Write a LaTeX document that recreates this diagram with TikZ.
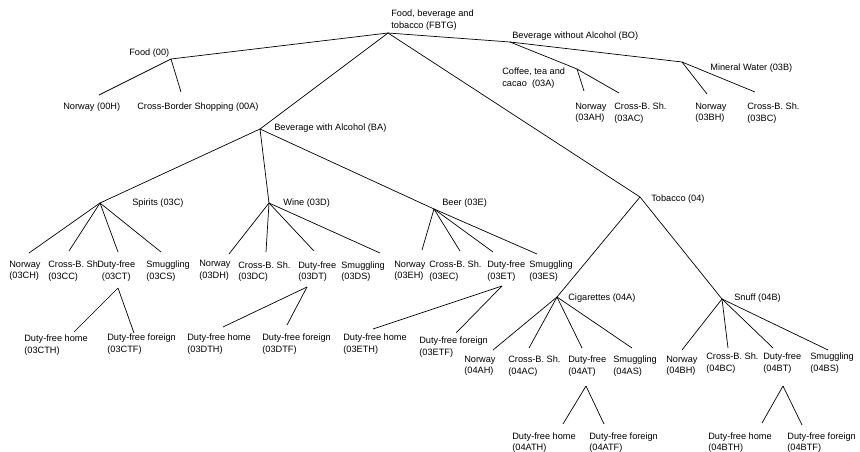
\documentclass[tikz,border=0pt]{standalone}
\usepackage{fontspec}
\setmainfont{Liberation Sans}
\begin{document}
\begin{tikzpicture}[x=1pt,y=-1pt,line width=0.7pt,
  lbl/.style={anchor=north west,inner sep=0pt,align=left,font=\fontsize{9.2}{11.5}\selectfont}]
  \useasboundingbox (0,0) rectangle (860,452);

  % Junctions
  \coordinate (fbtg) at (388,33);
  \coordinate (food) at (171,59);
  \coordinate (bo) at (510,42);
  \coordinate (cof) at (577,69);
  \coordinate (mw) at (682,62);
  \coordinate (ba) at (260,129);
  \coordinate (spi) at (100,203);
  \coordinate (wine) at (269,203);
  \coordinate (beer) at (434,209);
  \coordinate (tob) at (640,197);
  \coordinate (cig) at (557,297);
  \coordinate (snu) at (722,299);
  \coordinate (ct) at (118,288);
  \coordinate (dt) at (307,287);
  \coordinate (et) at (502,286);
  \coordinate (at) at (586,386);
  \coordinate (bt) at (783,386);

  % Line ends above the leaf labels
  \coordinate (e00H) at (99,95);
  \coordinate (e00A) at (181,92);
  \coordinate (e03AH) at (584,91);
  \coordinate (e03AC) at (619,93);
  \coordinate (e03BH) at (707,94);
  \coordinate (e03BC) at (755,92);
  \coordinate (e03CH) at (29,253);
  \coordinate (e03CC) at (69,251);
  \coordinate (e03CT) at (118,252);
  \coordinate (e03CS) at (161,252);
  \coordinate (e03DH) at (229,254);
  \coordinate (e03DC) at (266,252);
  \coordinate (e03DT) at (314,251);
  \coordinate (e03DS) at (380,253);
  \coordinate (e03EH) at (422,250);
  \coordinate (e03EC) at (460,251);
  \coordinate (e03ET) at (493,252);
  \coordinate (e03ES) at (537,254);
  \coordinate (e03CTH) at (74,332);
  \coordinate (e03CTF) at (134,333);
  \coordinate (e03DTH) at (223,327);
  \coordinate (e03DTF) at (287,325);
  \coordinate (e03ETH) at (373,329);
  \coordinate (e03ETF) at (456,333);
  \coordinate (e04AH) at (493,350);
  \coordinate (e04AC) at (529,348);
  \coordinate (e04AT) at (582,348);
  \coordinate (e04AS) at (632,348);
  \coordinate (e04BH) at (682,350);
  \coordinate (e04BC) at (728,348);
  \coordinate (e04BT) at (773,348);
  \coordinate (e04BS) at (828,350);
  \coordinate (e04ATH) at (563,424);
  \coordinate (e04ATF) at (604,424);
  \coordinate (e04BTH) at (762,423);
  \coordinate (e04BTF) at (802,425);

  % Group labels
  \node[lbl] (lfbtg) at (391,9.5) {Food, beverage and\\tobacco (FBTG)};
  \node[lbl] (lfood) at (129,48.5) {Food (00)};
  \node[lbl] (lbo) at (512,31.5) {Beverage without Alcohol (BO)};
  \node[lbl] (lcof) at (502,67.5) {Coffee, tea and\\cacao\ \ (03A)};
  \node[lbl] (lmw) at (710,63.5) {Mineral Water (03B)};
  \node[lbl] (lba) at (274,123.5) {Beverage with Alcohol (BA)};
  \node[lbl] (lspi) at (132,198.5) {Spirits (03C)};
  \node[lbl] (lwine) at (283,198.5) {Wine (03D)};
  \node[lbl] (lbeer) at (442,198.5) {Beer (03E)};
  \node[lbl] (ltob) at (651,194.5) {Tobacco (04)};
  \node[lbl] (lcig) at (568,293.5) {Cigarettes (04A)};
  \node[lbl] (lsnu) at (734,293.5) {Snuff (04B)};

  % Leaf labels
  \node[lbl] (l00H) at (63,102.5) {Norway (00H)};
  \node[lbl] (l00A) at (137,102.5) {Cross-Border Shopping (00A)};
  \node[lbl] (l03AH) at (575,102.5) {Norway\\(03AH)};
  \node[lbl] (l03AC) at (614,102.5) {Cross-B. Sh.\\(03AC)};
  \node[lbl] (l03BH) at (695,102.5) {Norway\\(03BH)};
  \node[lbl] (l03BC) at (747,102.5) {Cross-B. Sh.\\(03BC)};

  \node[lbl] (l03CH) at (9,260.5) {Norway\\(03CH)};
  \node[lbl] (l03CC) at (48,260.5) {Cross-B. Sh.\\(03CC)};
  \node[lbl,align=center] (l03CT) at (97,260.5) {Duty-free\\(03CT)};
  \node[lbl] (l03CS) at (146,260.5) {Smuggling\\(03CS)};
  \node[lbl] (l03DH) at (199,260) {Norway\\(03DH)};
  \node[lbl] (l03DC) at (238,261) {Cross-B. Sh.\\(03DC)};
  \node[lbl] (l03DT) at (298,261) {Duty-free\\(03DT)};
  \node[lbl] (l03DS) at (341,261) {Smuggling\\(03DS)};
  \node[lbl] (l03EH) at (394,260.5) {Norway\\(03EH)};
  \node[lbl] (l03EC) at (429,260.5) {Cross-B. Sh.\\(03EC)};
  \node[lbl] (l03ET) at (487,260.5) {Duty-free\\(03ET)};
  \node[lbl] (l03ES) at (529,260.5) {Smuggling\\(03ES)};

  \node[lbl] (l03CTH) at (24,334.5) {Duty-free home\\(03CTH)};
  \node[lbl] (l03CTF) at (107,333.5) {Duty-free foreign\\(03CTF)};
  \node[lbl] (l03DTH) at (187,333.5) {Duty-free home\\(03DTH)};
  \node[lbl] (l03DTF) at (262,333.5) {Duty-free foreign\\(03DTF)};
  \node[lbl] (l03ETH) at (343,333.5) {Duty-free home\\(03ETH)};
  \node[lbl] (l03ETF) at (419,336.5) {Duty-free foreign\\(03ETF)};

  \node[lbl] (l04AH) at (464,355.5) {Norway\\(04AH)};
  \node[lbl] (l04AC) at (508,355.5) {Cross-B. Sh.\\(04AC)};
  \node[lbl] (l04AT) at (568,355.5) {Duty-free\\(04AT)};
  \node[lbl] (l04AS) at (613,355.5) {Smuggling\\(04AS)};
  \node[lbl] (l04BH) at (666,355.5) {Norway\\(04BH)};
  \node[lbl] (l04BC) at (706,352.5) {Cross-B. Sh.\\(04BC)};
  \node[lbl] (l04BT) at (763,352.5) {Duty-free\\(04BT)};
  \node[lbl] (l04BS) at (810,352.5) {Smuggling\\(04BS)};

  \node[lbl] (l04ATH) at (512,432) {Duty-free home\\(04ATH)};
  \node[lbl] (l04ATF) at (589,432) {Duty-free foreign\\(04ATF)};
  \node[lbl] (l04BTH) at (708,432) {Duty-free home\\(04BTH)};
  \node[lbl] (l04BTF) at (787,432) {Duty-free foreign\\(04BTF)};

  % Top of the tree
  \draw (fbtg) -- (food);
  \draw (fbtg) -- (bo);
  \draw (fbtg) -- (ba);
  \draw (fbtg) -- (tob);
  \draw (food) -- (e00H);
  \draw (food) -- (e00A);

  % Beverage without alcohol
  \draw (bo) -- (cof);
  \draw (bo) -- (mw);
  \draw (cof) -- (e03AH);
  \draw (cof) -- (e03AC);
  \draw (mw) -- (e03BH);
  \draw (mw) -- (e03BC);

  % Beverage with alcohol
  \draw (ba) -- (spi);
  \draw (ba) -- (wine);
  \draw (ba) -- (beer);
  \draw (spi) -- (e03CH);
  \draw (spi) -- (e03CC);
  \draw (spi) -- (e03CT);
  \draw (spi) -- (e03CS);
  \draw (wine) -- (e03DH);
  \draw (wine) -- (e03DC);
  \draw (wine) -- (e03DT);
  \draw (wine) -- (e03DS);
  \draw (beer) -- (e03EH);
  \draw (beer) -- (e03EC);
  \draw (beer) -- (e03ET);
  \draw (beer) -- (e03ES);
  \draw (ct) -- (e03CTH);
  \draw (ct) -- (e03CTF);
  \draw (dt) -- (e03DTH);
  \draw (dt) -- (e03DTF);
  \draw (et) -- (e03ETH);
  \draw (et) -- (e03ETF);

  % Tobacco
  \draw (tob) -- (cig);
  \draw (tob) -- (snu);
  \draw (cig) -- (e04AH);
  \draw (cig) -- (e04AC);
  \draw (cig) -- (e04AT);
  \draw (cig) -- (e04AS);
  \draw (snu) -- (e04BH);
  \draw (snu) -- (e04BC);
  \draw (snu) -- (e04BT);
  \draw (snu) -- (e04BS);
  \draw (at) -- (e04ATH);
  \draw (at) -- (e04ATF);
  \draw (bt) -- (e04BTH);
  \draw (bt) -- (e04BTF);
\end{tikzpicture}
\end{document}
